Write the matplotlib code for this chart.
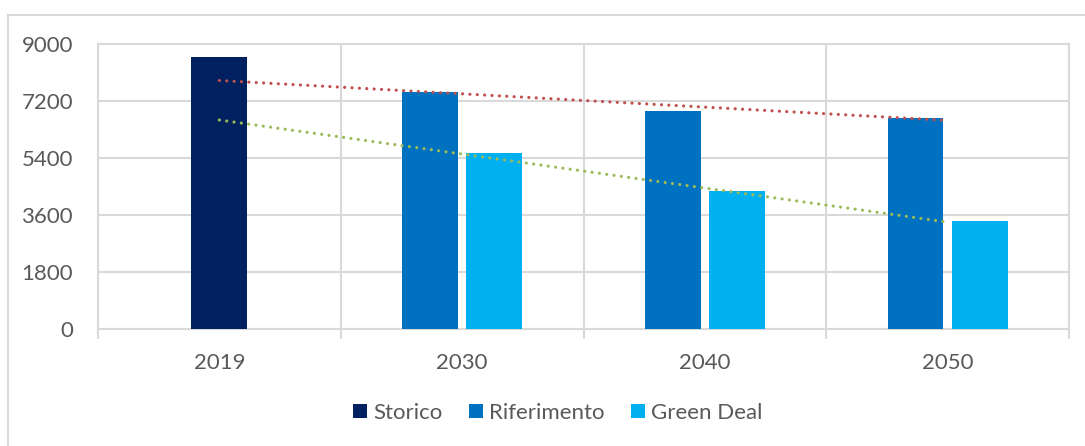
import numpy as np
import matplotlib.pyplot as plt
from matplotlib.patches import Rectangle

# categories and series values
years = ["2019", "2030", "2040", "2050"]
storico = [8600, 0, 0, 0]
riferimento = [0, 7490, 6880, 6650]
green_deal = [0, 5570, 4360, 3420]

plt.rcParams['font.family'] = ['Lato', 'DejaVu Sans']
grey_txt = "#595959"
grid_col = "#d9d9d9"

fig = plt.figure(figsize=(10.85, 4.46), dpi=100)
ax = fig.add_axes([98/1085, 117/446, 971/1085, 285/446])

x = np.arange(len(years))
w = 0.23
off = 0.132

b1 = ax.bar(x[:1], storico[:1], w, color="#002060", zorder=3, label="Storico")
b2 = ax.bar(x[1:] - off, riferimento[1:], w, color="#0070C0", zorder=3, label="Riferimento")
b3 = ax.bar(x[1:] + off, green_deal[1:], w, color="#00B0F0", zorder=3, label="Green Deal")

# linear trendlines on the scenario series, extended back one period
xs = x[1:]
for vals, col in [(riferimento, "#C0504D"), (green_deal, "#9BBB59")]:
    k, q = np.polyfit(xs, vals[1:], 1)
    xt = np.array([x[0], x[-1]])
    ax.plot(xt, k * xt + q, color=col, lw=2.3, linestyle=(0, (0.01, 2.3)),
            dash_capstyle="round", zorder=4)

ax.set_xlim(-0.5, 3.5)
ax.set_ylim(0, 9000)
ax.set_yticks(np.arange(0, 9001, 1800))
ax.set_xticks(x)
ax.set_xticklabels(years)
ax.set_xticks(np.arange(-0.5, 3.6, 1), minor=True)

ax.grid(axis="y", color=grid_col, lw=1.5, zorder=0)
ax.grid(axis="x", which="minor", color=grid_col, lw=1.5, zorder=0)
ax.tick_params(axis="x", which="major", length=0, pad=17, labelsize=16, labelcolor=grey_txt)
ax.tick_params(axis="x", which="minor", length=7, width=1.5, color=grid_col)
ax.tick_params(axis="y", length=0, pad=18, labelsize=16, labelcolor=grey_txt)
for s in ax.spines.values():
    s.set_color(grid_col)
    s.set_linewidth(1.5)

fig.legend(handles=[b1, b2, b3], loc="center",
           bbox_to_anchor=(558/1085, 1 - 413/446), ncol=3, frameon=False,
           fontsize=16, labelcolor=grey_txt, handlelength=0.6, handleheight=0.6,
           handletextpad=0.3, columnspacing=1.2)

# outer chart frame
fig.patches.append(Rectangle((8/1085, -0.1), 1.2, 1 - 15/446 + 0.1,
                             transform=fig.transFigure, fill=False,
                             edgecolor=grid_col, lw=1.5))

fig.savefig("out.png", dpi=100)
